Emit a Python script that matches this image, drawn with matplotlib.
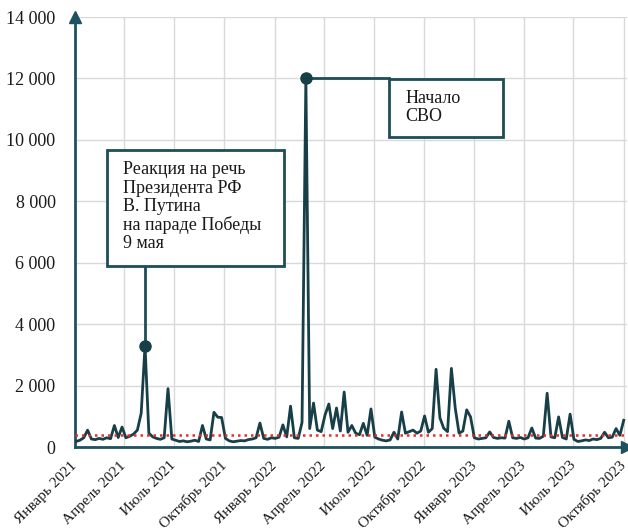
import matplotlib
matplotlib.use("Agg")
import matplotlib.pyplot as plt
import matplotlib.dates as mdates
from matplotlib.patches import Rectangle
from matplotlib.ticker import FuncFormatter, MultipleLocator
import pandas as pd

################## data (weekly, Jan 2021 - Oct 2023)
start_date = "2021-01-03"
values = [
    180, 220, 300, 550, 260, 240, 280, 250, 300, 270,
    700, 310, 650, 300, 350, 420, 550, 1100, 3300, 450,
    330, 280, 250, 300, 1900, 260, 220, 180, 200, 170,
    190, 220, 180, 700, 260, 230, 1130, 970, 960, 280,
    200, 170, 190, 210, 200, 240, 260, 300, 780, 280,
    250, 300, 280, 320, 720, 330, 1330, 300, 280, 800,
    12000, 600, 1430, 550, 500, 1040, 1400, 600, 1270, 520,
    1790, 480, 700, 450, 400, 770, 380, 1240, 320, 260,
    220, 200, 230, 480, 260, 1140, 450, 500, 550, 450,
    520, 1010, 480, 600, 2530, 950, 610, 500, 2560, 1270,
    450, 520, 1210, 980, 300, 260, 280, 300, 490, 310,
    280, 300, 290, 840, 300, 280, 310, 260, 300, 620,
    290, 280, 350, 1750, 330, 300, 980, 310, 260, 1070,
    250, 180, 200, 230, 210, 260, 240, 280, 480, 300,
    320, 600, 380, 870,
]
threshold = 400

month_names = {1: "Январь", 4: "Апрель", 7: "Июль", 10: "Октябрь"}

event1_idx = 18   # 9 мая 2021
event2_idx = 60   # начало СВО
event1_text = "Реакция на речь\nПрезидента РФ\nВ. Путина\nна параде Победы\n9 мая"
event2_text = "Начало\nСВО"

dates = pd.date_range(start_date, periods=len(values), freq="7D")

line_color = "#173f47"
axis_color = "#1f5260"
box_color = "#1e4d55"
serif = ["Liberation Serif", "DejaVu Serif"]

################## figure
fig = plt.figure(figsize=(6.28, 5.32), dpi=100)
ax = fig.add_axes([75 / 628, 1 - 447 / 532, 552 / 628, 430 / 532])

ax.plot(dates, values, color=line_color, lw=2, zorder=3)
ax.axhline(threshold, color="#e0302a", ls=(0, (1, 1.6)), lw=1.8, zorder=4)

ax.set_xlim(pd.Timestamp("2021-01-01"), pd.Timestamp("2023-10-07"))
ax.set_ylim(0, 14000)

# axes / grid
ax.yaxis.set_major_locator(MultipleLocator(2000))
ax.yaxis.set_major_formatter(FuncFormatter(lambda v, p: f"{int(v):,}".replace(",", " ")))
ax.xaxis.set_major_locator(mdates.MonthLocator(bymonth=[1, 4, 7, 10]))
ax.xaxis.set_major_formatter(FuncFormatter(
    lambda v, p: f"{month_names[mdates.num2date(v).month]} {mdates.num2date(v).year}"))

ax.grid(True, color="#d9d9d9", lw=1)
ax.set_axisbelow(True)
for s in ["top", "right"]:
    ax.spines[s].set_visible(False)
for s in ["left", "bottom"]:
    ax.spines[s].set_color(axis_color)
    ax.spines[s].set_linewidth(2)

ax.tick_params(axis="both", length=0)
ax.tick_params(axis="y", pad=14)
ax.tick_params(axis="x", pad=12)
for lab in ax.get_yticklabels():
    lab.set_fontfamily(serif)
    lab.set_fontsize(13)
    lab.set_color("#1a1a1a")
for lab in ax.get_xticklabels():
    lab.set_fontfamily(serif)
    lab.set_fontsize(11)
    lab.set_color("#1a1a1a")
    lab.set_rotation(45)
    lab.set_ha("right")
    lab.set_va("center")
    lab.set_rotation_mode("anchor")

# arrows on axes
ax.plot(0, 1, "^", color=axis_color, ms=8, transform=ax.transAxes, clip_on=False, zorder=5)
ax.plot(1, 0, ">", color=axis_color, ms=8, transform=ax.transAxes, clip_on=False, zorder=5)

################## annotations
box1 = (0.058, 0.421, 0.3206, 0.2697)   # x0, y0, w, h in axes fraction
box2 = (0.5688, 0.721, 0.2066, 0.1348)

for (x0, y0, w, h) in [box1, box2]:
    ax.add_patch(Rectangle((x0, y0), w, h, transform=ax.transAxes, facecolor="white",
                           edgecolor=box_color, lw=2, zorder=6, clip_on=False))

ax.text(0.087, 0.664, event1_text, transform=ax.transAxes, ha="left", va="top",
        fontsize=13, family=serif, color="#1a1a1a", linespacing=1.08, zorder=7)
ax.text(0.598, 0.830, event2_text, transform=ax.transAxes, ha="left", va="top",
        fontsize=13, family=serif, color="#1a1a1a", linespacing=1.08, zorder=7)

# connectors
x1, y1 = dates[event1_idx], values[event1_idx]
box1_bottom = box1[1] * 14000
ax.plot([x1, x1], [y1, box1_bottom], color=box_color, lw=2, zorder=5)
ax.plot(x1, y1, "o", color=line_color, ms=8, zorder=6)

x2, y2 = dates[event2_idx], values[event2_idx]
box2_left = mdates.num2date(ax.get_xlim()[0] + box2[0] * (ax.get_xlim()[1] - ax.get_xlim()[0]))
ax.plot([x2, box2_left], [y2, y2], color=box_color, lw=2, zorder=5)
ax.plot(x2, y2, "o", color=line_color, ms=8, zorder=6)

fig.savefig("out.png", dpi=100, facecolor="white")
